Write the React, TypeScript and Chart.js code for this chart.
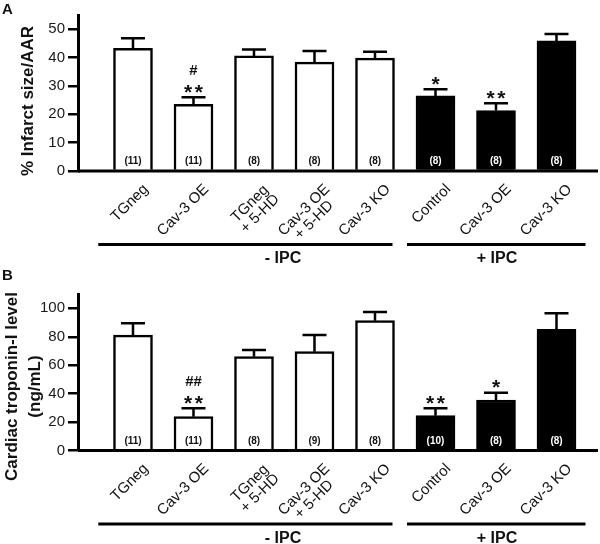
import React, { useEffect, useRef } from "react";
import { Chart, registerables } from "chart.js";

Chart.register(...registerables);

const FONT = '"Liberation Sans", Arial, Helvetica, sans-serif';

// ---------- data ----------
const categories: string[][] = [
  ["TGneg"],
  ["Cav-3 OE"],
  ["TGneg", "+ 5-HD"],
  ["Cav-3 OE", "+ 5-HD"],
  ["Cav-3 KO"],
  ["Control"],
  ["Cav-3 OE"],
  ["Cav-3 KO"],
];
const ipcTreated = [false, false, false, false, false, true, true, true];
const groupLabels = ["- IPC", "+ IPC"];
const groupFirst = [0, 5];
const groupLast = [4, 7];

const infarctMean = [43.3, 23.5, 40.6, 38.4, 39.8, 26.5, 21.3, 45.9];
const infarctSem = [3.5, 2.5, 2.3, 3.9, 2.3, 2.3, 2.6, 2.4];
const infarctN = [11, 11, 8, 8, 8, 8, 8, 8];
const infarctStars = ["", "**", "", "", "", "*", "**", ""];
const infarctHashes = ["", "#", "", "", "", "", "", ""];

const troponinMean = [81.2, 23.8, 66.0, 69.5, 91.3, 24.5, 35.5, 85.2];
const troponinSem = [8.3, 5.9, 4.7, 11.7, 6.1, 5.2, 5.1, 11.3];
const troponinN = [11, 11, 8, 9, 8, 10, 8, 8];
const troponinStars = ["", "**", "", "", "", "**", "*", ""];
const troponinHashes = ["", "##", "", "", "", "", "", ""];

interface Panel {
  letter: string;
  title: string[];
  mean: number[];
  sem: number[];
  n: number[];
  stars: string[];
  hashes: string[];
  yMax: number;
  step: number;
  // layout
  padTop: number;
  padBottom: number;
  titleX: number[];
  titleY: number;
  letterBaseline: number;
}

const panelA: Panel = {
  letter: "A",
  title: ["% Infarct size/AAR"],
  mean: infarctMean,
  sem: infarctSem,
  n: infarctN,
  stars: infarctStars,
  hashes: infarctHashes,
  yMax: 55,
  step: 10,
  padTop: 15.1,
  padBottom: 373,
  titleX: [28.5],
  titleY: 101,
  letterBaseline: 13.5,
};

const panelB: Panel = {
  letter: "B",
  title: ["Cardiac troponin-I level", "(ng/mL)"],
  mean: troponinMean,
  sem: troponinSem,
  n: troponinN,
  stars: troponinStars,
  hashes: troponinHashes,
  yMax: 110,
  step: 20,
  padTop: 294.1,
  padBottom: 93.5,
  titleX: [12, 35],
  titleY: 386.5,
  letterBaseline: 280,
};

function makePlugin(p: Panel) {
  return {
    id: "decor" + p.letter,
    afterDatasetsDraw(chart: any) {
      const ctx: CanvasRenderingContext2D = chart.ctx;
      const xs = chart.scales.x;
      const ys = chart.scales.y;
      const area = chart.chartArea;
      const y0 = ys.getPixelForValue(0);
      ctx.save();
      ctx.strokeStyle = "#000";
      ctx.fillStyle = "#111";

      // error bars
      ctx.lineWidth = 2.5;
      p.mean.forEach((m, i) => {
        const cx = xs.getPixelForValue(i);
        const yt = ys.getPixelForValue(m);
        const ye = ys.getPixelForValue(m + p.sem[i]);
        ctx.beginPath();
        ctx.moveTo(cx, yt);
        ctx.lineTo(cx, ye);
        ctx.moveTo(cx - 12, ye);
        ctx.lineTo(cx + 12, ye);
        ctx.stroke();

        // significance stars
        const s = p.stars[i];
        if (s) {
          ctx.font = `bold 21px ${FONT}`;
          ctx.textAlign = "center";
          ctx.textBaseline = "alphabetic";
          for (let k = 0; k < s.length; k++) {
            const sx = cx + (k - (s.length - 1) / 2) * 10.7;
            ctx.fillText(s[k], sx, ye - 10.5 + 12);
          }
        }
        const h = p.hashes[i];
        if (h) {
          ctx.font = `bold 15px ${FONT}`;
          ctx.textAlign = "center";
          ctx.textBaseline = "alphabetic";
          ctx.fillText(h, cx, ye - 27.5 + 5.4);
        }
      });

      // x axis line
      ctx.lineWidth = 3;
      ctx.beginPath();
      ctx.moveTo(area.left, y0);
      ctx.lineTo(area.right, y0);
      ctx.stroke();

      // n labels
      ctx.font = `bold 10px ${FONT}`;
      ctx.textAlign = "center";
      ctx.textBaseline = "middle";
      p.n.forEach((n, i) => {
        const cx = xs.getPixelForValue(i);
        ctx.fillStyle = ipcTreated[i] ? "#fff" : "#111";
        ctx.fillText(`(${n})`, cx, y0 - 9.5);
      });
      ctx.fillStyle = "#111";

      // rotated category labels
      ctx.font = `15px ${FONT}`;
      categories.forEach((lines, i) => {
        const cx = xs.getPixelForValue(i);
        ctx.save();
        ctx.translate(cx + 13, y0 + 16);
        ctx.rotate(-Math.PI / 4);
        let w = 0;
        lines.forEach((l) => (w = Math.max(w, ctx.measureText(l).width)));
        ctx.textAlign = "center";
        ctx.textBaseline = "middle";
        lines.forEach((l, j) => ctx.fillText(l, -w / 2, j * 14));
        ctx.restore();
      });

      // group lines and labels
      const lineStart = [-34.7, -28.5];
      const lineEnd = [17.5, 29];
      const labelShift = [29, 1];
      groupLabels.forEach((g, k) => {
        const a = xs.getPixelForValue(groupFirst[k]);
        const b = xs.getPixelForValue(groupLast[k]);
        ctx.lineWidth = 3;
        ctx.beginPath();
        ctx.moveTo(a + lineStart[k], y0 + 73.5);
        ctx.lineTo(b + lineEnd[k], y0 + 73.5);
        ctx.stroke();
        ctx.font = `bold 16px ${FONT}`;
        ctx.textAlign = "center";
        ctx.textBaseline = "middle";
        ctx.fillText(g, (a + b) / 2 + labelShift[k], y0 + 88);
      });

      // y title
      ctx.font = `bold 17px ${FONT}`;
      p.title.forEach((t, j) => {
        ctx.save();
        ctx.translate(p.titleX[j], p.titleY);
        ctx.rotate(-Math.PI / 2);
        ctx.textAlign = "center";
        ctx.textBaseline = "middle";
        ctx.fillText(t, 0, 0);
        ctx.restore();
      });

      // panel letter
      ctx.font = `bold 15px ${FONT}`;
      ctx.textAlign = "left";
      ctx.textBaseline = "alphabetic";
      ctx.fillText(p.letter, 2, p.letterBaseline);

      ctx.restore();
    },
  };
}

function PanelChart({ panel }: { panel: Panel }) {
  const ref = useRef<HTMLCanvasElement | null>(null);
  useEffect(() => {
    if (!ref.current) return;
    const chart = new Chart(ref.current, {
      type: "bar",
      data: {
        datasets: [
          {
            data: panel.mean.map((v, i) => ({ x: i, y: v })) as any,
            backgroundColor: ipcTreated.map((t) => (t ? "#000" : "#fff")),
            borderColor: "#000",
            borderWidth: 2.5,
            barThickness: 39,
          },
        ],
      },
      options: {
        responsive: false,
        animation: false,
        events: [],
        layout: { padding: { top: panel.padTop, bottom: panel.padBottom, left: 0, right: 2 } },
        plugins: { legend: { display: false }, tooltip: { enabled: false } },
        scales: {
          x: { type: "linear", display: false, offset: false, min: -0.909, max: 7.686 },
          y: {
            min: 0,
            max: panel.yMax,
            afterFit: (s: any) => {
              s.width = 78;
            },
            border: { display: true, color: "#000", width: 3 },
            grid: {
              display: true,
              drawOnChartArea: false,
              drawTicks: true,
              tickLength: 10,
              color: "#000",
              lineWidth: 2.5,
            },
            ticks: {
              stepSize: panel.step,
              includeBounds: false,
              padding: 3,
              color: "#1a1a1a",
              font: { family: FONT, size: 15 },
            },
          },
        },
      },
      plugins: [makePlugin(panel)],
    } as any);
    return () => chart.destroy();
  }, [panel]);
  return (
    <canvas
      ref={ref}
      width={600}
      height={544}
      style={{ position: "absolute", left: 0, top: 0, width: 600, height: 544, display: "block" }}
    />
  );
}

export default function App() {
  return (
    <div style={{ position: "absolute", left: 0, top: 0, width: 600, height: 544, background: "#fff" }}>
      <PanelChart panel={panelA} />
      <PanelChart panel={panelB} />
    </div>
  );
}
